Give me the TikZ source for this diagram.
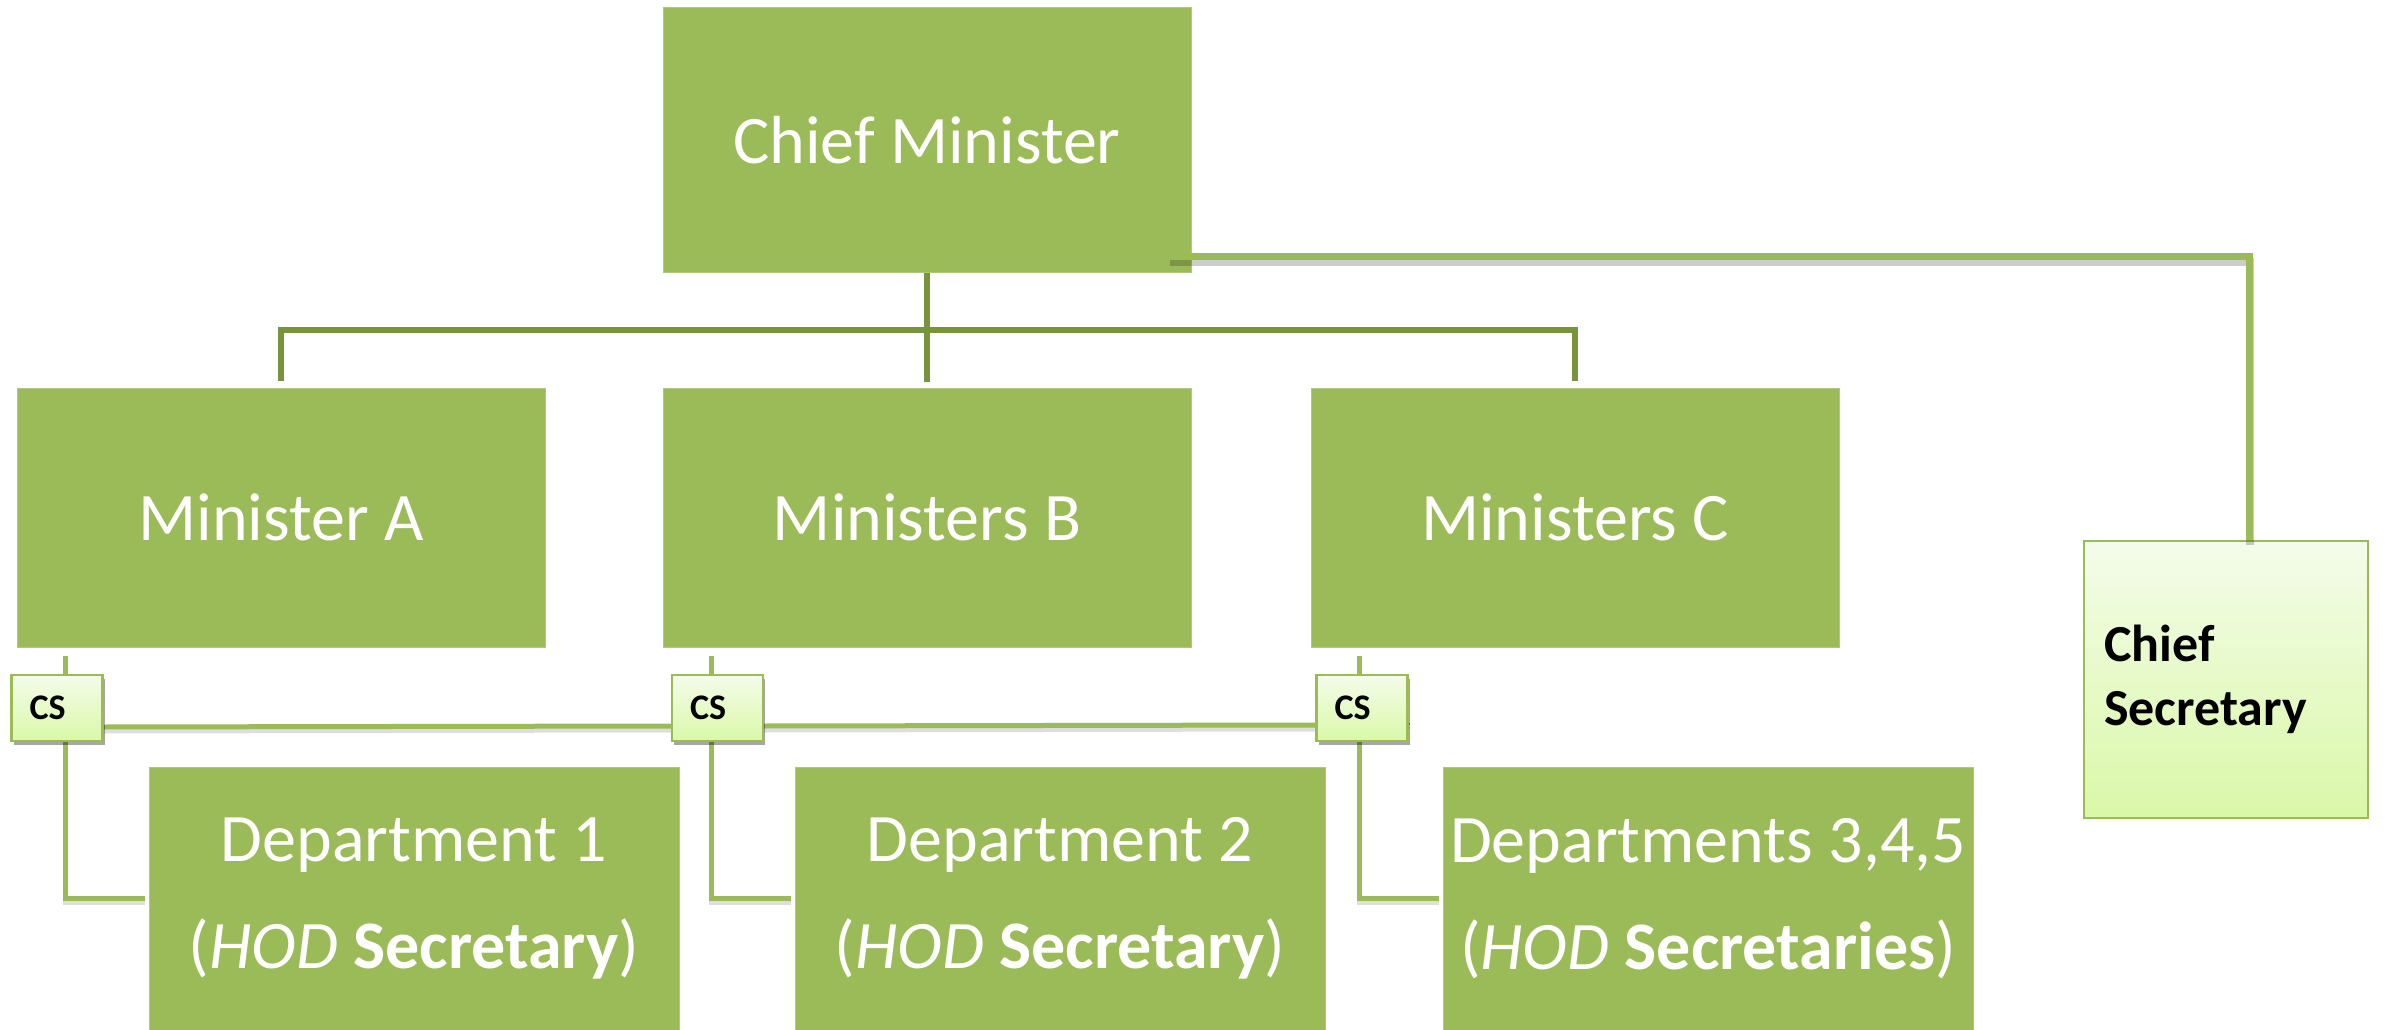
\documentclass[tikz,border=0pt]{standalone}
\usepackage{fontspec}
\setmainfont{Carlito}
\usetikzlibrary{shadows,calc}
\definecolor{boxgreen}{HTML}{9BBB59}
\definecolor{orgline}{HTML}{77933C}
\definecolor{lighttop}{HTML}{F4FCEA}
\definecolor{lightbot}{HTML}{DAF8A8}
\begin{document}
\begin{tikzpicture}[x=1pt,y=-1pt,
  bigbox/.style={fill=boxgreen, draw=boxgreen!80!white, line width=1pt, minimum width=528pt, minimum height=259pt, inner sep=0pt,
    text=white, align=center, font=\fontsize{68}{107}\selectfont},
  deptbox/.style={bigbox, minimum width=530pt, minimum height=263pt},
  csbox/.style={top color=lighttop, bottom color=lightbot, draw=boxgreen, line width=2.5pt,
    minimum width=91pt, minimum height=66pt, inner xsep=18pt, inner ysep=0pt, text width=55pt, align=left,
    font=\fontsize{36}{38}\selectfont\bfseries, text=black,
    drop shadow={shadow xshift=2pt, shadow yshift=-4pt, opacity=0.35, fill=black}},
  chsbox/.style={top color=lighttop, bottom color=lightbot, draw=boxgreen, line width=2.5pt,
    minimum width=284pt, minimum height=277pt, inner xsep=20pt, inner ysep=0pt, text width=244pt, align=left,
    font=\fontsize{52}{64}\selectfont\bfseries, text=black},
  orgln/.style={draw=orgline, line width=5.5pt},
  csln/.style={draw=boxgreen, line width=5pt,
    preaction={draw=black, opacity=0.13, line width=5pt, transform canvas={shift={(0pt,-4pt)}}}},
  bigln/.style={draw=boxgreen, line width=7pt,
    preaction={draw=black, opacity=0.2, line width=8pt, transform canvas={shift={(1pt,-5pt)}}}}
]
\useasboundingbox (0,0) rectangle (2385,1030);

% top-level boxes
\node[bigbox, minimum height=264pt] (cm) at (927,140) {Chief Minister};
\node[bigbox] (ma) at (281,517.5) {Minister A};
\node[bigbox] (mb) at (927,517.5) {Ministers B};
\node[bigbox] (mc) at (1575,517.5) {Ministers C};

% departments
\node[deptbox] (d1) at (414,898.5) {Department 1\\(\textit{HOD} \textbf{Secretary})};
\node[deptbox] (d2) at (1060,898.5) {Department 2\\(\textit{HOD} \textbf{Secretary})};
\node[deptbox] (d3) at (1708,898.5) {Departments 3,4,5\\(\textit{HOD} \textbf{Secretaries})};

% chief secretary
\node[chsbox] (chs) at (2226,679.5) {Chief\\Secretary};

% org chart connectors
\coordinate (hub) at ($(cm.south)!0.5!(mb.north)$);
\draw[orgln] ([yshift=7pt]ma.north) |- (hub) -| ([yshift=7pt]mc.north);
\draw[orgln] (cm.south) -- ([yshift=6pt]mb.north);

% CM to Chief Secretary
\draw[bigln] ([xshift=-23pt,yshift=16pt]cm.south east) -| ([xshift=23pt]chs.north);

% CS line anchor points
\coordinate (va) at ([xshift=49pt]ma.south west);
\coordinate (vb) at ([xshift=49pt]mb.south west);
\coordinate (vc) at ([xshift=49pt]mc.south west);
\path (57,708) coordinate (pa) (717.5,708) coordinate (pb) (1362,708) coordinate (pc);

% vertical connectors minister -> CS -> department
\draw[csln] ([yshift=-8pt]va) -- (va |- 0,675);
\draw[csln] (va |- 0,741) |- ([xshift=-4pt]d1.west);
\draw[csln] ([yshift=-8pt]vb) -- (vb |- 0,675);
\draw[csln] (vb |- 0,741) |- ([xshift=-4pt]d2.west);
\draw[csln] ([yshift=-8pt]vc) -- (vc |- 0,675);
\draw[csln] (vc |- 0,741) |- ([xshift=-4pt]d3.west);

% horizontal CS line
\draw[csln] ($(pa)+(45,19)$) -- ($(pb)+(-45,18)$);
\draw[csln] ($(pb)+(45,18)$) -- ($(pc)+(-45,17)$);
\draw[csln] ($(pc)+(45,17)$) -- ($(pc)+(45,15)$ -| chs.west);

% CS boxes
\node[csbox] (csA) at (pa) {CS};
\node[csbox] (csB) at (pb) {CS};
\node[csbox] (csC) at (pc) {CS};
\end{tikzpicture}
\end{document}
